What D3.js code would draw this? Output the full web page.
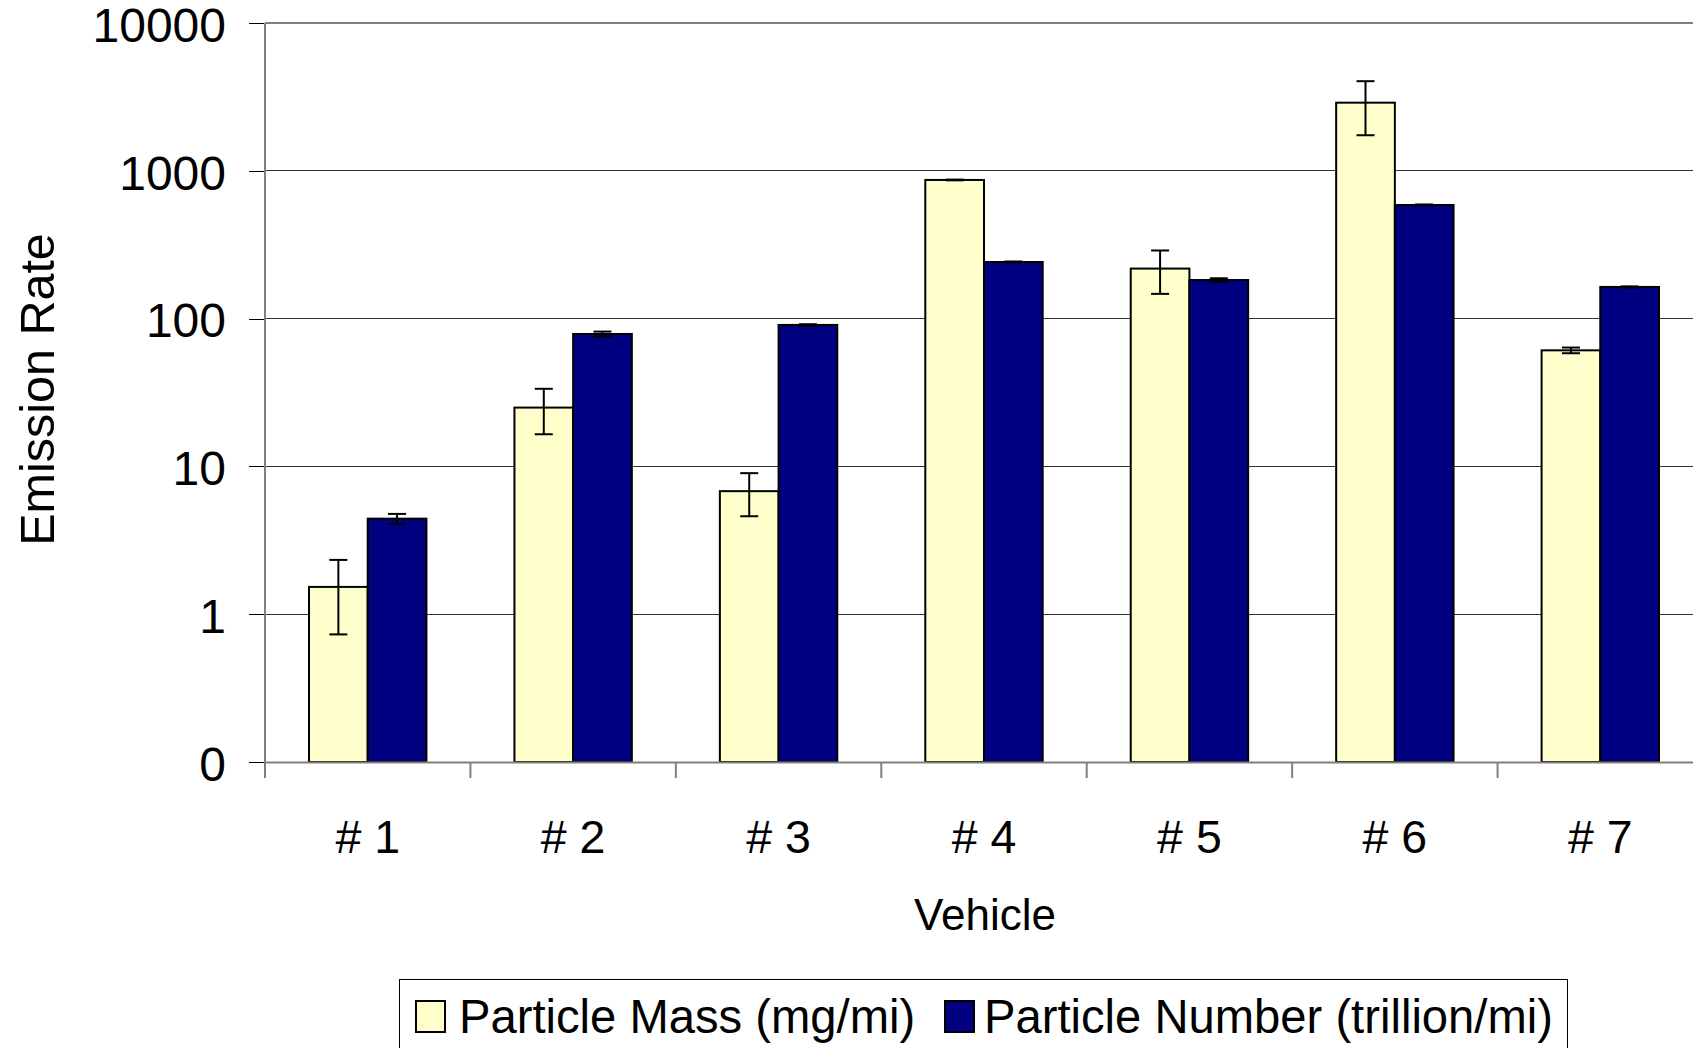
<!DOCTYPE html>
<html>
<head>
<meta charset="utf-8">
<script src="https://cdn.jsdelivr.net/npm/d3@7"></script>
<style>
  html, body { margin: 0; padding: 0; background: #fff; }
  svg { display: block; font-family: "Liberation Sans", Arial, sans-serif; }
</style>
</head>
<body>
<svg id="chart" width="1693" height="1048"></svg>
<script>
// Vehicles and measured emission rates (mean ± error)
const categories = ["# 1", "# 2", "# 3", "# 4", "# 5", "# 6", "# 7"];
const seriesNames = ["Particle Mass (mg/mi)", "Particle Number (trillion/mi)"];
const seriesColors = ["#FFFFCC", "#000080"];
const massValues = [1.53, 25, 6.8, 867, 218, 2890, 61];
const massErrors = [0.8, 8.5, 2.2, 5, 71, 1150, 2.7];
const numberValues = [4.43, 78.7, 90.6, 241.5, 182.4, 587, 163.7];
const numberErrors = [0.34, 3, 1, 2, 5, 5, 1.5];
const yTickValues = [0.1, 1, 10, 100, 1000, 10000];
const yTickLabels = ["0", "1", "10", "100", "1000", "10000"];
const xTitle = "Vehicle";
const yTitle = "Emission Rate";

const svg = d3.select("#chart");
const plot = { left: 265, right: 1703, top: 23, bottom: 762 };

const y = d3.scaleLog().domain([0.1, 10000]).range([plot.bottom, plot.top]);
const x = d3.scaleBand().domain(categories).range([plot.left, plot.right]).padding(0);
const xs = d3.scaleBand().domain([0, 1]).range([0, x.bandwidth()])
  .paddingInner(0).paddingOuter(0.75);

const rows = categories.map((c, i) => ({
  cat: c,
  bars: [
    { s: 0, v: massValues[i], e: massErrors[i] },
    { s: 1, v: numberValues[i], e: numberErrors[i] }
  ]
}));

// Horizontal gridlines
svg.append("g").selectAll("line")
  .data(yTickValues.slice(1))
  .join("line")
  .attr("x1", plot.left).attr("x2", plot.right)
  .attr("y1", d => y(d)).attr("y2", d => y(d))
  .attr("stroke", d => d === 10000 ? "#808080" : "#333")
  .attr("stroke-width", d => d === 10000 ? 2 : 1)
  .attr("shape-rendering", "crispEdges");

// Y axis with custom labels
const yAxis = d3.axisLeft(y)
  .tickValues(yTickValues)
  .tickFormat((d, i) => yTickLabels[i])
  .tickSize(16)
  .tickPadding(23);
const yg = svg.append("g").attr("transform", `translate(${plot.left},0)`).call(yAxis);
yg.select(".domain").remove();
yg.selectAll(".tick line").attr("stroke", "#000").attr("shape-rendering", "crispEdges");
yg.selectAll(".tick text")
  .attr("font-size", 48)
  .attr("font-family", "Liberation Sans, Arial, sans-serif")
  .attr("fill", "#000")
  .attr("dy", "0.38em");

// Bars
const groups = svg.append("g").selectAll("g")
  .data(rows)
  .join("g")
  .attr("transform", d => `translate(${x(d.cat)},0)`);

groups.selectAll("rect")
  .data(d => d.bars)
  .join("rect")
  .attr("x", d => xs(d.s))
  .attr("width", xs.bandwidth())
  .attr("y", d => y(d.v))
  .attr("height", d => plot.bottom - y(d.v))
  .attr("fill", d => seriesColors[d.s])
  .attr("stroke", "#000")
  .attr("stroke-width", 2);

// Error bars
const eb = groups.selectAll("g.err")
  .data(d => d.bars)
  .join("g")
  .attr("class", "err")
  .attr("transform", d => `translate(${xs(d.s) + xs.bandwidth() / 2},0)`);
eb.append("line")
  .attr("y1", d => y(d.v + d.e)).attr("y2", d => y(Math.max(d.v - d.e, 0.1)))
  .attr("stroke", "#000").attr("stroke-width", 2);
eb.append("line")
  .attr("x1", -9).attr("x2", 9)
  .attr("y1", d => y(d.v + d.e)).attr("y2", d => y(d.v + d.e))
  .attr("stroke", "#000").attr("stroke-width", 2);
eb.append("line")
  .attr("x1", -9).attr("x2", 9)
  .attr("y1", d => y(Math.max(d.v - d.e, 0.1))).attr("y2", d => y(Math.max(d.v - d.e, 0.1)))
  .attr("stroke", "#000").attr("stroke-width", 2);

// Axis lines (value axis and category axis)
svg.append("line")
  .attr("x1", plot.left).attr("x2", plot.left)
  .attr("y1", plot.top).attr("y2", plot.bottom + 16)
  .attr("stroke", "#808080").attr("stroke-width", 2);

const xAxis = d3.axisBottom(x).tickSize(0).tickPadding(58);
const xg = svg.append("g").attr("transform", `translate(0,${plot.bottom})`).call(xAxis);
xg.select(".domain").attr("stroke", "#808080").attr("stroke-width", 2);
xg.selectAll(".tick text")
  .attr("font-size", 46.5)
  .attr("font-family", "Liberation Sans, Arial, sans-serif")
  .attr("fill", "#000");

// Category boundary ticks
const bounds = categories.map(c => x(c)).concat([plot.right]);
svg.append("g").selectAll("line")
  .data(bounds)
  .join("line")
  .attr("x1", d => d).attr("x2", d => d)
  .attr("y1", plot.bottom).attr("y2", plot.bottom + 16)
  .attr("stroke", "#808080").attr("stroke-width", 2);

// Axis titles
svg.append("text")
  .attr("x", (plot.left + plot.right) / 2 + 1)
  .attr("y", 930)
  .attr("text-anchor", "middle")
  .attr("font-size", 44)
  .text(xTitle);

svg.append("text")
  .attr("transform", `translate(54,${(plot.top + plot.bottom) / 2 - 3}) rotate(-90)`)
  .attr("text-anchor", "middle")
  .attr("font-size", 48.5)
  .text(yTitle);

// Legend
const legend = svg.append("g");
legend.append("rect")
  .attr("x", 399.5).attr("y", 979.5)
  .attr("width", 1168).attr("height", 90)
  .attr("fill", "#fff").attr("stroke", "#000").attr("stroke-width", 1);

const legendItems = [
  { s: 0, sx: 416, tx: 459 },
  { s: 1, sx: 945, tx: 984 }
];
legendItems.forEach(it => {
  legend.append("rect")
    .attr("x", it.sx).attr("y", 1001)
    .attr("width", 29).attr("height", 31)
    .attr("fill", seriesColors[it.s])
    .attr("stroke", "#000").attr("stroke-width", 2);
  legend.append("text")
    .attr("x", it.tx).attr("y", 1033)
    .attr("font-size", 47.2)
    .text(seriesNames[it.s]);
});
</script>
</body>
</html>
